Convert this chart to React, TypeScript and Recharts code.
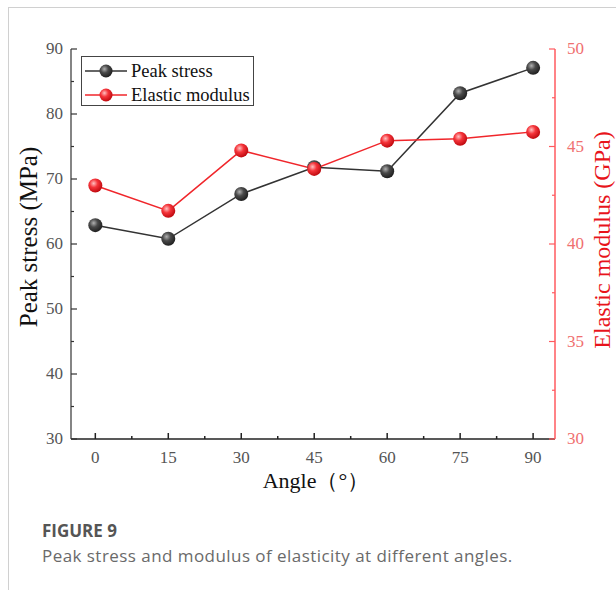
import { ComposedChart, Line, XAxis, YAxis } from 'recharts';

const angles = [0, 15, 30, 45, 60, 75, 90];
const peakStress = [62.9, 60.8, 67.7, 71.8, 71.2, 83.2, 87.1];
const elasticModulus = [43.0, 41.7, 44.8, 43.85, 45.3, 45.4, 45.75];

const xTicks = [0, 7.5, 15, 22.5, 30, 37.5, 45, 52.5, 60, 67.5, 75, 82.5, 90];
const leftTicks = [30, 35, 40, 45, 50, 55, 60, 65, 70, 75, 80, 85, 90];
const rightTicks = [30, 32.5, 35, 37.5, 40, 42.5, 45, 47.5, 50];

const data = angles.map((a, i) => ({ angle: a, peak: peakStress[i], modulus: elasticModulus[i] }));

const SERIF = "'Liberation Serif', 'Times New Roman', serif";
const RED = '#f0262b';
const AXIS_RED = '#ff5a5f';

function XTick({ x, y, payload }: any) {
  const major = payload.value % 15 === 0;
  return (
    <g>
      <line x1={x} x2={x} y1={y} y2={y - (major ? 6 : 3)} stroke="#222" strokeWidth={1.5} />
      {major && (
        <text x={x} y={y + 24} textAnchor="middle" fontSize={17} fill="#555" fontFamily={SERIF}>
          {payload.value}
        </text>
      )}
    </g>
  );
}

function LeftTick({ x, y, payload }: any) {
  const major = payload.value % 10 === 0;
  return (
    <g>
      <line x1={x} x2={x + (major ? 6 : 3)} y1={y} y2={y} stroke="#333" strokeWidth={1.2} />
      {major && (
        <text x={x - 8} y={y + 5} textAnchor="end" fontSize={17} fill="#555" fontFamily={SERIF}>
          {payload.value}
        </text>
      )}
    </g>
  );
}

function RightTick({ x, y, payload }: any) {
  const major = payload.value % 5 === 0;
  return (
    <g>
      <line x1={x} x2={x - (major ? 6 : 3)} y1={y} y2={y} stroke={AXIS_RED} strokeWidth={1.2} />
      {major && (
        <text x={x + 12} y={y + 5} textAnchor="start" fontSize={17} fill="#f07070" fontFamily={SERIF}>
          {payload.value}
        </text>
      )}
    </g>
  );
}

function Ball({ color }: { color: 'black' | 'red' }) {
  const id = color === 'black' ? 'lgBlack' : 'lgRed';
  const line = color === 'black' ? '#333' : RED;
  return (
    <svg width={44} height={16} style={{ verticalAlign: 'middle', flex: 'none' }}>
      <defs>
        <radialGradient id={id} cx="0.38" cy="0.35" r="0.65">
          <stop offset="0%" stopColor={color === 'black' ? '#b0b0b0' : '#ffc0c0'} />
          <stop offset="45%" stopColor={color === 'black' ? '#4a4a4a' : '#f5343a'} />
          <stop offset="100%" stopColor={color === 'black' ? '#202020' : '#c00a10'} />
        </radialGradient>
      </defs>
      <line x1={1} x2={43} y1={8} y2={8} stroke={line} strokeWidth={1.5} />
      <circle cx={22} cy={8} r={6.5} fill={`url(#${id})`} />
    </svg>
  );
}

export default function App() {
  return (
    <div style={{ position: 'fixed', left: 8, top: 7, width: 608, height: 583, background: '#fff' }}>
      <div
        style={{
          position: 'absolute',
          inset: 0,
          borderTop: '1px solid #d0d0d0',
          borderLeft: '1px solid #d0d0d0',
        }}
      />
      <div style={{ position: 'absolute', left: 0, top: 0 }}>
        <ComposedChart width={600} height={470} data={data} margin={{ top: 42, right: 3, left: 13, bottom: 8 }}>
          <defs>
            <radialGradient id="ballBlack" cx="0.38" cy="0.35" r="0.65">
              <stop offset="0%" stopColor="#b0b0b0" />
              <stop offset="45%" stopColor="#4a4a4a" />
              <stop offset="100%" stopColor="#202020" />
            </radialGradient>
            <radialGradient id="ballRed" cx="0.38" cy="0.35" r="0.65">
              <stop offset="0%" stopColor="#ffc0c0" />
              <stop offset="45%" stopColor="#f5343a" />
              <stop offset="100%" stopColor="#c00a10" />
            </radialGradient>
          </defs>
          <XAxis
            xAxisId="top"
            orientation="top"
            dataKey="angle"
            type="number"
            domain={[-5, 94.5]}
            tick={false}
            tickLine={false}
            height={0}
            axisLine={{ stroke: '#333', strokeWidth: 1.2 }}
          />
          <XAxis
            dataKey="angle"
            type="number"
            domain={[-5, 94.5]}
            ticks={xTicks}
            interval={0}
            tickLine={false}
            tickSize={0}
            tickMargin={0}
            tick={XTick}
            height={30}
            axisLine={{ stroke: '#222', strokeWidth: 1.5 }}
          />
          <YAxis
            yAxisId="left"
            domain={[30, 90]}
            ticks={leftTicks}
            interval={0}
            tickLine={false}
            tickSize={0}
            tickMargin={0}
            tick={LeftTick}
            width={50}
            axisLine={{ stroke: '#333', strokeWidth: 1.2 }}
          />
          <YAxis
            yAxisId="right"
            orientation="right"
            domain={[30, 50]}
            ticks={rightTicks}
            interval={0}
            tickLine={false}
            tickSize={0}
            tickMargin={0}
            tick={RightTick}
            width={50}
            axisLine={{ stroke: AXIS_RED, strokeWidth: 1.5 }}
          />
          <Line
            yAxisId="left"
            dataKey="peak"
            stroke="#333"
            strokeWidth={1.5}
            dot={{ r: 7, fill: 'url(#ballBlack)', stroke: 'none' }}
            isAnimationActive={false}
          />
          <Line
            yAxisId="right"
            dataKey="modulus"
            stroke={RED}
            strokeWidth={1.5}
            dot={{ r: 7, fill: 'url(#ballRed)', stroke: 'none' }}
            isAnimationActive={false}
          />
        </ComposedChart>
      </div>

      {/* legend */}
      <div
        style={{
          position: 'absolute',
          left: 73,
          top: 49,
          width: 173,
          height: 50,
          boxSizing: 'border-box',
          border: '1px solid #444',
          fontFamily: SERIF,
          fontSize: 18.5,
          color: '#111',
          paddingTop: 2,
        }}
      >
        <div style={{ display: 'flex', alignItems: 'center', height: 24, paddingLeft: 2, whiteSpace: 'nowrap' }}>
          <Ball color="black" />
          <span style={{ marginLeft: 3 }}>Peak stress</span>
        </div>
        <div style={{ display: 'flex', alignItems: 'center', height: 24, paddingLeft: 2, whiteSpace: 'nowrap' }}>
          <Ball color="red" />
          <span style={{ marginLeft: 3 }}>Elastic modulus</span>
        </div>
      </div>

      {/* axis titles */}
      <div
        style={{
          position: 'absolute',
          left: 20.5,
          top: 230,
          transform: 'translate(-50%, -50%) rotate(-90deg)',
          whiteSpace: 'nowrap',
          fontFamily: SERIF,
          fontSize: 25,
          color: '#111',
        }}
      >
        Peak stress (MPa)
      </div>
      <div
        style={{
          position: 'absolute',
          left: 594,
          top: 233,
          transform: 'translate(-50%, -50%) rotate(-90deg)',
          whiteSpace: 'nowrap',
          fontFamily: SERIF,
          fontSize: 24,
          color: '#e8141b',
        }}
      >
        Elastic modulus (GPa)
      </div>
      <div
        style={{
          position: 'absolute',
          left: 308,
          top: 474,
          transform: 'translate(-50%, -50%)',
          whiteSpace: 'nowrap',
          fontFamily: SERIF,
          fontSize: 22,
          color: '#111',
        }}
      >
        Angle（°）
      </div>

      {/* caption */}
      <div
        style={{
          position: 'absolute',
          left: 34,
          top: 512,
          fontFamily: "'Open Sans', sans-serif",
          fontWeight: 700,
          fontSize: 17,
          color: '#555',
        }}
      >
        FIGURE 9
      </div>
      <div
        style={{
          position: 'absolute',
          left: 34,
          top: 537,
          fontFamily: "'Open Sans', sans-serif",
          fontSize: 17,
          letterSpacing: 0.45,
          color: '#6a6a6a',
          whiteSpace: 'nowrap',
        }}
      >
        Peak stress and modulus of elasticity at different angles.
      </div>
    </div>
  );
}
